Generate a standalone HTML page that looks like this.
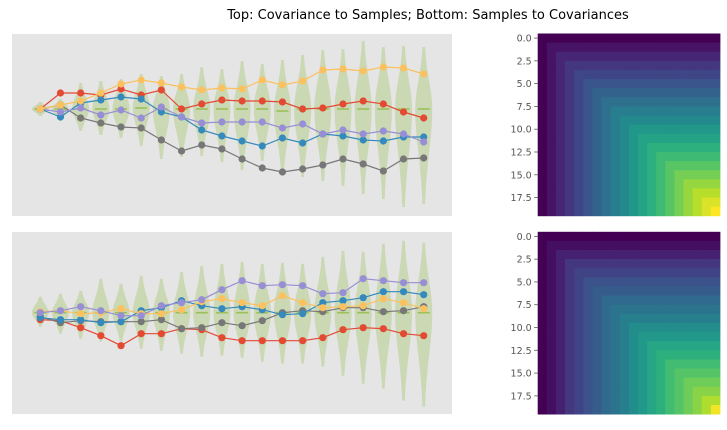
<!DOCTYPE html>
<html><head><meta charset="utf-8"><style>
body{margin:0;background:#fff;width:727px;height:426px;overflow:hidden;font-family:"DejaVu Sans","Liberation Sans",sans-serif}
</style></head><body>
<svg id="fig" width="727" height="426" xmlns="http://www.w3.org/2000/svg">
<text x="428" y="19" text-anchor="middle" font-size="13" fill="#000" font-family="DejaVu Sans, Liberation Sans, sans-serif">Top: Covariance to Samples; Bottom: Samples to Covariances</text>
</svg>
<script>
const steps = [0,1,2,3,4,5,6,7,8,9,10,11,12,13,14,15,16,17,18,19];
const topOrange=[0,0.4,0.8,1.6,2.5,2.9,2.6,2.2,1.9,2.1,2.0,2.9,2.4,2.8,3.9,4.0,3.8,4.2,4.1,3.5];
const topRed=[0,1.6,1.6,1.4,2.0,1.4,1.9,0,0.5,0.9,0.8,0.8,0.7,0,0.1,0.5,0.8,0.5,-0.3,-0.9];
const topBlue=[0,-0.8,0.6,0.9,1.2,1.0,-0.3,-0.8,-2.1,-2.7,-3.2,-3.7,-2.9,-3.4,-2.5,-2.7,-3.1,-3.2,-2.8,-2.8];
const topPurple=[0,-0.3,0.1,-0.6,-0.1,-0.9,0.2,-0.8,-1.4,-1.3,-1.3,-1.3,-1.9,-1.5,-2.5,-2.1,-2.5,-2.2,-2.5,-3.3];
const topGray=[0,0.4,-0.9,-1.4,-1.8,-1.9,-3.1,-4.2,-3.6,-4.0,-5.0,-5.9,-6.3,-6.0,-5.6,-5.0,-5.5,-6.2,-5.0,-4.9];
const topViolinMax=[0.7,1.0,2.6,2.8,3.0,3.5,3.3,3.5,4.2,4.0,4.8,4.5,4.9,5.4,5.9,6.0,6.8,6.2,6.3,6.2];
const topViolinMin=[-0.7,-1.2,-2.2,-2.6,-2.9,-3.7,-5.0,-4.8,-4.7,-5.3,-6.1,-5.2,-6.5,-6.8,-7.2,-7.7,-8.5,-9.0,-9.8,-9.5];
const topMedian=[0,0,0,0,0,0.1,0,0,0,0,0,0,-0.2,0,0,0,0,0,0,0];
const botPurple=[0,0.2,0.6,0.2,-0.3,-0.3,0.7,1.0,1.3,2.3,3.2,2.7,2.8,2.7,1.9,2.0,3.4,3.2,3.0,3.0];
const botBlue=[-0.5,-0.7,-0.7,-1.0,-0.9,0.2,0.5,1.2,0.7,0.4,0.6,0.3,-0.2,-0.1,1.0,1.2,1.5,2.1,2.1,1.8];
const botOrange=[0.1,0.2,-0.1,0,0.4,-0.1,-0.1,0.3,1.1,1.4,1.0,0.7,1.7,1.0,0.5,0.6,0.7,1.4,1.0,0.4];
const botGray=[-0.4,-1.0,-0.8,-0.9,-0.9,-0.9,-0.7,-1.6,-1.5,-1.0,-1.3,-0.8,0,0.2,0.1,0.5,0.5,0.1,0.2,0.6];
const botRed=[-0.7,-0.8,-1.5,-2.3,-3.3,-2.1,-2.1,-1.6,-1.7,-2.5,-2.8,-2.8,-2.8,-2.8,-2.5,-1.7,-1.5,-1.6,-2.1,-2.3];
const botViolinMax=[1.6,1.9,2.2,3.4,2.9,3.7,3.4,4.1,4.7,4.9,5.1,4.9,5.0,4.9,5.6,6.2,6.1,6.9,7.2,7.0];
const botViolinMin=[-1.4,-2.1,-2.6,-2.9,-2.9,-3.6,-3.8,-4.1,-4.4,-4.3,-4.5,-4.9,-5.1,-5.1,-5.4,-6.3,-7.1,-7.6,-8.8,-9.4];
const botMedian=[0,0,0,0,0,0,0,0,0,0,0,0,0,0,0,0,0,0,0,0];
const covDiagTop=[1,2,3,4,5,6,7,8,9,10,11,12,13,14,15,16,17,18,19,20];
const covDiagBot=[1,1.8,2.8,4.2,5.0,6.0,6.8,7.8,8.6,9.6,10.8,11.6,12.8,13.6,14.8,15.6,16.6,17.4,18.6,20.6];
const heatTicks=["0.0","2.5","5.0","7.5","10.0","12.5","15.0","17.5"];

const NS="http://www.w3.org/2000/svg", svg=document.getElementById('fig');
function mk(tag,attrs,parent){const e=document.createElementNS(NS,tag);for(const k in attrs)e.setAttribute(k,attrs[k]);(parent||svg).appendChild(e);return e;}

function lineChart(name,y0,center,series,vmax,vmin,med){
  const g=mk('g',{});
  
  
  const bg=mk('rect',{x:12,y:y0,width:440,height:182,fill:'#E5E5E5'},g);
  
  
  const xs=i=>40.3+i*20.18, ys=v=>center-v*10;
  steps.forEach((s,i)=>{
    const top=vmax[i],bot=vmin[i],m=med[i];
    const sdU=(top-m)/2.2, sdD=(m-bot)/2.2;
    let L=[],R=[];
    const n=40;
    for(let k=0;k<=n;k++){
      const v=top-(top-bot)*k/n;
      const sd=v>m?sdU:sdD;
      const z=(v-m)/sd;
      const w=0.6+7.9*Math.exp(-0.5*z*z);
      L.push([xs(s)-w,ys(v)]);R.push([xs(s)+w,ys(v)]);
    }
    const pts=L.concat(R.reverse());
    const p=mk('path',{d:'M'+pts.map(q=>q[0].toFixed(1)+','+q[1].toFixed(1)).join('L')+'Z',fill:'#8EBA42','fill-opacity':0.3},g);
    
    
    const d=mk('line',{x1:xs(s)-6,x2:xs(s)+6,y1:ys(m),y2:ys(m),stroke:'#8EBA42','stroke-width':1.6,'stroke-opacity':0.8},g);
    
    
  });
  series.forEach((sr)=>{
    const col=sr[1];
    const pl=mk('polyline',{points:sr[0].map((v,i)=>xs(steps[i])+','+ys(v)).join(' '),fill:'none',stroke:col,'stroke-width':1.2},g);
    
    
    sr[0].forEach((v,i)=>{
      const c=mk('circle',{cx:xs(steps[i]),cy:ys(v),r:3.6,fill:col},g);
      
      
    });
  });
}
lineChart('top-samples-chart',34,109,[[topRed,"#E24A33"],[topGray,"#777777"],[topBlue,"#348ABD"],[topPurple,"#988ED5"],[topOrange,"#FBC15E"]],topViolinMax,topViolinMin,topMedian);
lineChart('bottom-samples-chart',232,312.7,[[botRed,"#E24A33"],[botGray,"#777777"],[botBlue,"#348ABD"],[botOrange,"#FBC15E"],[botPurple,"#988ED5"]],botViolinMax,botViolinMin,botMedian);

const vir=[[68,1,84],[72,40,120],[62,74,137],[49,104,142],[38,130,142],[31,158,137],[53,183,121],[109,205,89],[180,222,44],[253,231,37]];
function viridis(t){t=Math.max(0,Math.min(1,t))*9;const i=Math.min(8,Math.floor(t)),f=t-i,a=vir[i],b=vir[i+1];
  return 'rgb('+a.map((c,k)=>Math.round(c+(b[k]-c)*f)).join(',')+')';}
function heatmap(name,y0,diag,vmaxScale){
  const g=mk('g',{});
  
  
  const x0=537.7,cs=182.3/20;
  const mn=Math.min(...diag),mx=vmaxScale;
  for(let i=0;i<20;i++)for(let j=0;j<20;j++){
    const v=diag[Math.min(i,j)];
    const r=mk('rect',{x:(x0+j*cs).toFixed(2),y:(y0+i*cs).toFixed(2),width:(cs+0.4).toFixed(2),height:(cs+0.4).toFixed(2),fill:viridis((v-mn)/(mx-mn))},g);
    
    
  }
  heatTicks.forEach((t)=>{
    const y=y0+(parseFloat(t)+0.5)*cs;
    const tk=mk('line',{x1:x0-3.5,x2:x0,y1:y,y2:y,stroke:'#555','stroke-width':0.8},g);
    
    
    const tx=mk('text',{x:x0-6,y:y+3.5,'text-anchor':'end','font-size':9.5,fill:'#555','font-family':'DejaVu Sans, Liberation Sans, sans-serif'},g);
    
    
    tx.textContent=t;
  });
}
heatmap('top-covariance-heatmap',33.5,covDiagTop,20);
heatmap('bottom-covariance-heatmap',231.8,covDiagBot,21);
</script>
</body></html>
